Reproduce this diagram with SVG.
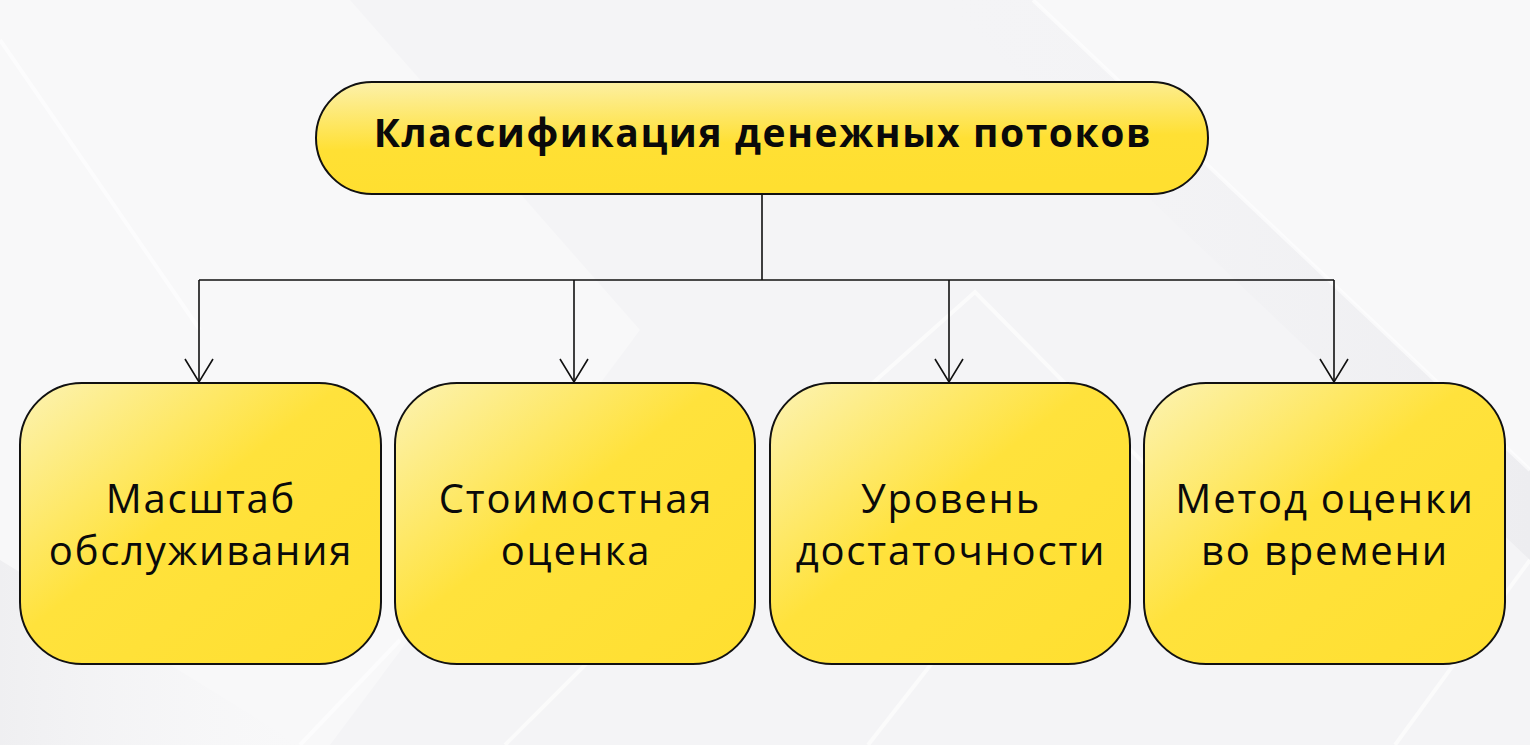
<svg xmlns="http://www.w3.org/2000/svg" width="1530" height="745" viewBox="0 0 1530 745">
<style>
.node{stroke:#111;stroke-width:2}
.lbl{font-family:"Open Sans","Noto Sans","Liberation Sans",sans-serif;font-size:40px;letter-spacing:1.8px;fill:#0a0a0a;text-anchor:middle}
.title{font-family:"Open Sans","Noto Sans","Liberation Sans",sans-serif;font-size:39px;letter-spacing:1.6px;font-weight:700;fill:#0a0a0a;text-anchor:middle}
.conn{fill:none;stroke:#111;stroke-width:1.6}
.streak{fill:none;stroke:#ffffff;stroke-width:4;opacity:.6}
</style>
<defs>
<linearGradient id="gTop" x1="0" y1="0" x2="0.15" y2="1">
<stop offset="0" stop-color="#fcf1ac"/>
<stop offset="0.6" stop-color="#ffe034"/>
<stop offset="1" stop-color="#ffdf30"/>
</linearGradient>
<linearGradient id="gBox" x1="0" y1="0" x2="1" y2="1">
<stop offset="0" stop-color="#fcf3b4"/>
<stop offset="0.45" stop-color="#ffe23c"/>
<stop offset="1" stop-color="#ffdf30"/>
</linearGradient>
<linearGradient id="gShade" x1="0" y1="0" x2="1" y2="0">
<stop offset="0" stop-color="#f3f3f5" stop-opacity="0"/>
<stop offset="1" stop-color="#e6e6ea" stop-opacity="1"/>
</linearGradient>
<linearGradient id="gLeft" x1="0" y1="0" x2="1" y2="0">
<stop offset="0" stop-color="#e9e9ec"/>
<stop offset="1" stop-color="#f3f3f5" stop-opacity="0"/>
</linearGradient>
<marker id="arr" viewBox="0 -16 26 32" refX="24" refY="0" markerWidth="26" markerHeight="32" markerUnits="userSpaceOnUse" orient="auto">
<path d="M1,-14 L24,0 L1,14" fill="none" stroke="#111" stroke-width="1.6"/>
</marker>
</defs>
<g id="background">
<rect x="0" y="0" width="1530" height="745" fill="#f4f4f6"/>
<polygon points="0,0 350,0 640,330 330,745 0,745" fill="#f8f8f9"/>
<polygon points="1033,0 1530,0 1530,470" fill="#f8f8f9"/>
<polygon points="940,0 1033,0 1530,470 1530,560 " fill="url(#gShade)" opacity="0.5"/>
<polyline class="streak" points="1033,0 1530,470"/>
<polyline class="streak" points="820,430 975,292 1200,520" opacity="0.45"/>
<polygon points="0,560 300,745 0,745" fill="url(#gLeft)" opacity="0.6"/>
<polyline class="streak" points="300,745 400,640"/>
<polyline class="streak" points="505,745 610,640"/>
<polyline class="streak" points="868,745 950,640"/>
<polyline class="streak" points="1395,745 1530,560"/>
<polyline class="streak" points="0,40 200,330" opacity="0.35"/>
</g>
<g id="connectors">
<path class="conn" d="M762,194 V280 M199,280 H1334"/>
<path class="conn" d="M199,280 V382" marker-end="url(#arr)"/>
<path class="conn" d="M574,280 V382" marker-end="url(#arr)"/>
<path class="conn" d="M949,280 V382" marker-end="url(#arr)"/>
<path class="conn" d="M1334,280 V382" marker-end="url(#arr)"/>
</g>
<g id="node-root">
<rect class="node" x="316" y="82" width="892" height="112" rx="56" ry="56" fill="url(#gTop)"/>
<text class="title" x="763" y="147">Классификация денежных потоков</text>
</g>
<g id="node-scale">
<rect class="node" x="20" y="383" width="361" height="281" rx="62" ry="62" fill="url(#gBox)"/>
<text class="lbl" x="201" y="513">Масштаб</text>
<text class="lbl" x="201" y="565">обслуживания</text>
</g>
<g id="node-value">
<rect class="node" x="395" y="383" width="360" height="281" rx="62" ry="62" fill="url(#gBox)"/>
<text class="lbl" x="576" y="513">Стоимостная</text>
<text class="lbl" x="576" y="565">оценка</text>
</g>
<g id="node-sufficiency">
<rect class="node" x="770" y="383" width="360" height="281" rx="62" ry="62" fill="url(#gBox)"/>
<text class="lbl" x="951" y="513">Уровень</text>
<text class="lbl" x="951" y="565">достаточности</text>
</g>
<g id="node-time">
<rect class="node" x="1144" y="383" width="361" height="281" rx="62" ry="62" fill="url(#gBox)"/>
<text class="lbl" x="1325" y="513">Метод оценки</text>
<text class="lbl" x="1325" y="565">во времени</text>
</g>
</svg>
